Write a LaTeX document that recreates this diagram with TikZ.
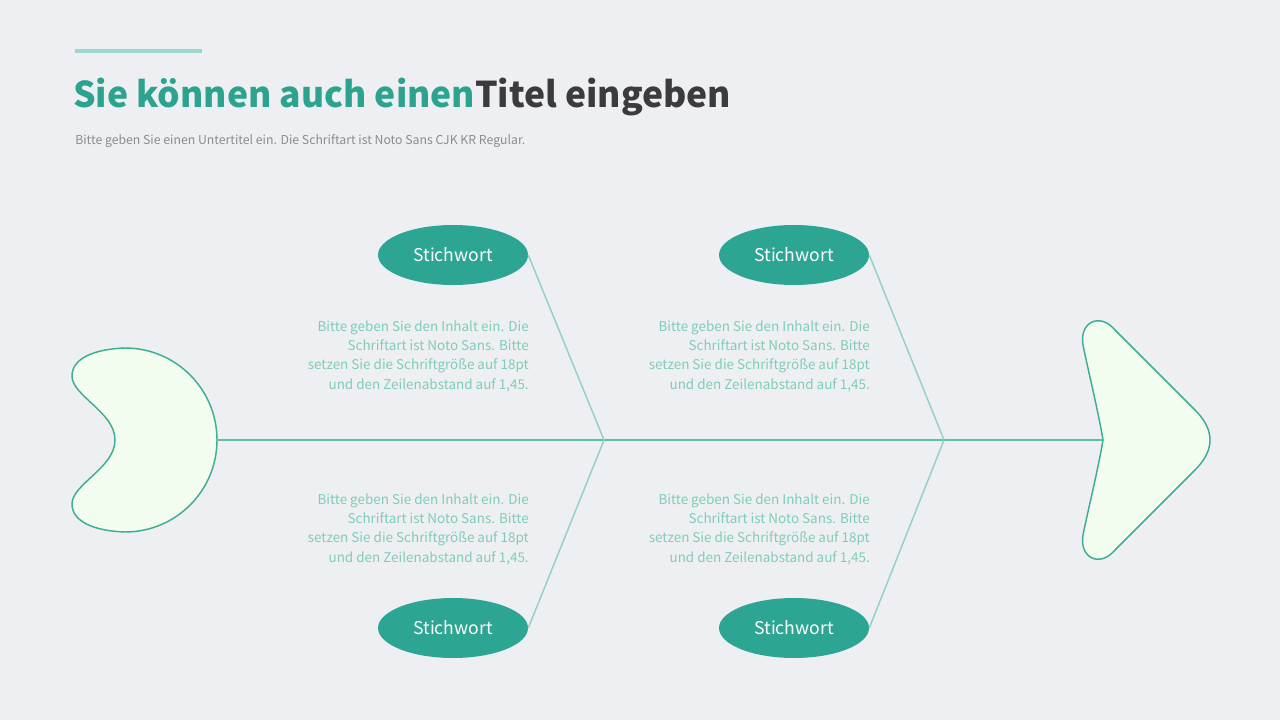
\documentclass[tikz,border=0pt]{standalone}
\usepackage{fontspec}
\setmainfont{Noto Sans CJK KR}
\usetikzlibrary{shapes.geometric}
\definecolor{bgcol}{HTML}{EEEFF2}
\definecolor{keyteal}{HTML}{2DA593}
\definecolor{titlegreen}{HTML}{2BA38F}
\definecolor{titledark}{HTML}{3B3B3F}
\definecolor{spinecol}{HTML}{5CBFA6}
\definecolor{bonecol}{HTML}{93D2C4}
\definecolor{bodycol}{HTML}{7FCDB8}
\definecolor{barcol}{HTML}{9CD6CC}
\definecolor{fishfill}{HTML}{F2FDEF}
\definecolor{fishline}{HTML}{3DAE92}
\definecolor{subcol}{HTML}{8C8C8C}
\tikzset{
  keyword/.style={ellipse, fill=keyteal, text=white, minimum width=112.5pt,
    minimum height=45pt, inner sep=0pt, font=\fontsize{13.2}{15}\selectfont},
  bodytext/.style={align=right, anchor=base east, inner sep=0pt, text=bodycol,
    font=\fontsize{10.1}{14.4}\selectfont},
  bone/.style={draw=bonecol, line width=1.1pt},
  fish/.style={draw=fishline, fill=fishfill, line width=1.1pt}
}
\begin{document}
\begin{tikzpicture}[x=0.75pt,y=-0.75pt]
  \fill[bgcol] (0,0) rectangle (1280,720);

  % Header
  \draw[barcol, line width=3pt] (75,51) -- (202,51);
  \node[anchor=base west, inner sep=0pt, font=\fontsize{26.6}{30}\selectfont\bfseries] (title) at (73,108)
    {\textcolor{titlegreen}{Sie können auch einen}\textcolor{titledark}{Titel eingeben}};
  \node[anchor=base west, inner sep=0pt, text=subcol, font=\fontsize{9.2}{11}\selectfont] (subtitle) at (75,145)
    {Bitte geben Sie einen Untertitel ein. Die Schriftart ist Noto Sans CJK KR Regular.};

  % Head and tail
  \draw[fish] (217,440) arc (0:-90:92) .. controls (95,349) and (72,358) .. (72,376)
    .. controls (72,396) and (115,412) .. (115,440)
    .. controls (115,468) and (72,484) .. (72,504)
    .. controls (72,522) and (95,531) .. (125,532) arc (90:0:92) -- cycle;
  \draw[fish] (1103,440) .. controls (1098,410) and (1088,370) .. (1083,345)
    .. controls (1079,322) and (1100,312) .. (1115,330) -- (1195,410)
    .. controls (1215,430) and (1215,450) .. (1195,470) -- (1115,550)
    .. controls (1100,568) and (1079,558) .. (1083,535)
    .. controls (1088,510) and (1098,470) .. (1103,440) -- cycle;

  % Spine
  \coordinate (head) at (217,440);
  \coordinate (tail) at (1103,440);
  \coordinate (j1) at (604,440);
  \coordinate (j2) at (944,440);
  \draw[spinecol, line width=1.5pt] (head) -- (tail);

  % Keywords
  \node[keyword] (k1) at (453,255) {Stichwort};
  \node[keyword] (k2) at (794,255) {Stichwort};
  \node[keyword] (k3) at (453,628) {Stichwort};
  \node[keyword] (k4) at (794,628) {Stichwort};

  % Bones
  \draw[bone] (k1.east) -- (j1);
  \draw[bone] (k2.east) -- (j2);
  \draw[bone] (j1) -- (k3.east);
  \draw[bone] (j2) -- (k4.east);

  % Texts
  \node[bodytext] (t1) at (529,389) {Bitte geben Sie den Inhalt ein. Die\\Schriftart ist Noto Sans. Bitte\\setzen Sie die Schriftgröße auf 18pt\\und den Zeilenabstand auf 1,45.};
  \node[bodytext] (t2) at (870,389) {Bitte geben Sie den Inhalt ein. Die\\Schriftart ist Noto Sans. Bitte\\setzen Sie die Schriftgröße auf 18pt\\und den Zeilenabstand auf 1,45.};
  \node[bodytext] (t3) at (529,562) {Bitte geben Sie den Inhalt ein. Die\\Schriftart ist Noto Sans. Bitte\\setzen Sie die Schriftgröße auf 18pt\\und den Zeilenabstand auf 1,45.};
  \node[bodytext] (t4) at (870,562) {Bitte geben Sie den Inhalt ein. Die\\Schriftart ist Noto Sans. Bitte\\setzen Sie die Schriftgröße auf 18pt\\und den Zeilenabstand auf 1,45.};
\end{tikzpicture}
\end{document}
